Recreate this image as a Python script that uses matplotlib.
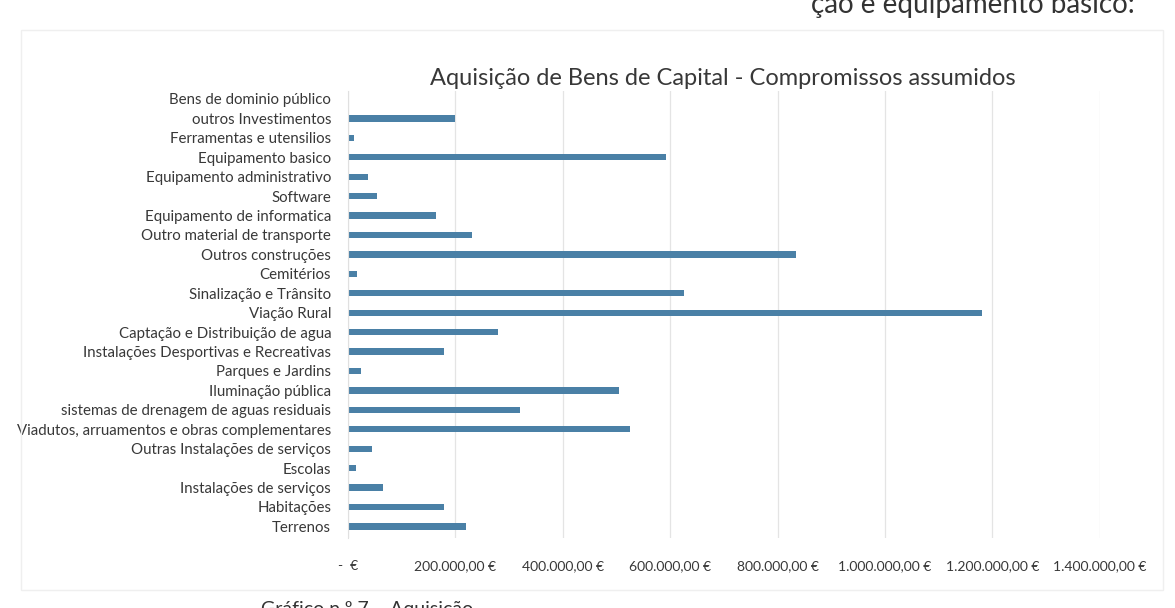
import numpy as np
import matplotlib.pyplot as plt
from matplotlib.patches import Rectangle
from matplotlib.ticker import FuncFormatter

# rubricas (de baixo para cima, como no Excel)
rubricas = [
    'Terrenos',
    'Habitações',
    'Instalações de serviços',
    'Escolas',
    'Outras Instalações de serviços',
    'Viadutos, arruamentos e obras complementares',
    'sistemas de drenagem de aguas residuais',
    'Iluminação pública',
    'Parques e Jardins',
    'Instalações Desportivas e Recreativas',
    'Captação e Distribuição de agua',
    'Viação Rural',
    'Sinalização e Trânsito',
    'Cemitérios',
    'Outros construções',
    'Outro material de transporte',
    'Equipamento de informatica',
    'Software',
    'Equipamento administrativo',
    'Equipamento basico',
    'Ferramentas e utensilios',
    'outros Investimentos',
    'Bens de dominio público',
]

compromissos = [
    220000, 180000, 65000, 15000, 45000, 525000, 320000, 505000, 25000,
    180000, 280000, 1180000, 625000, 17000, 835000, 232000, 165000,
    55000, 38000, 592000, 12000, 200000, 0,
]

escala = [0, 200000, 400000, 600000, 800000, 1000000, 1200000, 1400000]

titulo = 'Aquisição de Bens de Capital - Compromissos assumidos'


def euros(v, pos=None):
    if v == 0:
        return '-  €'
    s = f'{v:,.2f}'.replace(',', ' ').replace('.', ',').replace(' ', '.')
    return s + ' €'


plt.rcParams['font.family'] = ['Lato', 'DejaVu Sans']
cor_texto = '#383838'

fig = plt.figure(figsize=(11.75, 6.08), dpi=100)
ax = fig.add_axes([0.296, 0.115, 0.64, 0.735])

y = np.arange(len(rubricas))
ax.barh(y, compromissos, height=0.32, color='#4a80a6')

ax.set_yticks(y)
ax.set_yticklabels(rubricas, fontsize=10.8, color=cor_texto)
ax.set_ylim(-0.6, len(rubricas) - 0.6)

ax.set_xlim(escala[0], escala[-1])
ax.set_xticks(escala)
ax.xaxis.set_major_formatter(FuncFormatter(euros))
ax.tick_params(axis='x', labelsize=10, colors=cor_texto, length=0, pad=16)
ax.tick_params(axis='y', length=0, pad=12)

ax.grid(axis='x', color='#e4e4e4', linewidth=0.9)
ax.set_axisbelow(True)
for lado in ['top', 'right', 'bottom']:
    ax.spines[lado].set_visible(False)
ax.spines['left'].set_color('#e0e0e0')

fig.text(0.615, 0.853, titulo, ha='center', va='bottom', fontsize=17,
         color=cor_texto)

# moldura da área do gráfico
fig.patches.append(Rectangle((0.018, 0.03), 0.972, 0.92, transform=fig.transFigure,
                             fill=False, edgecolor='#efefef', linewidth=1))

# texto do relatório cortado acima e abaixo do gráfico
fig.text(0.966, 0.979, 'ção e equipamento basico:', ha='right', va='baseline',
         fontsize=20, color='#333333')
fig.text(0.222, -0.012, 'Gráfico n.º 7 – Aquisição',
         ha='left', va='baseline', fontsize=14, color='#333333')

fig.savefig('out.png', dpi=100, facecolor='white')
